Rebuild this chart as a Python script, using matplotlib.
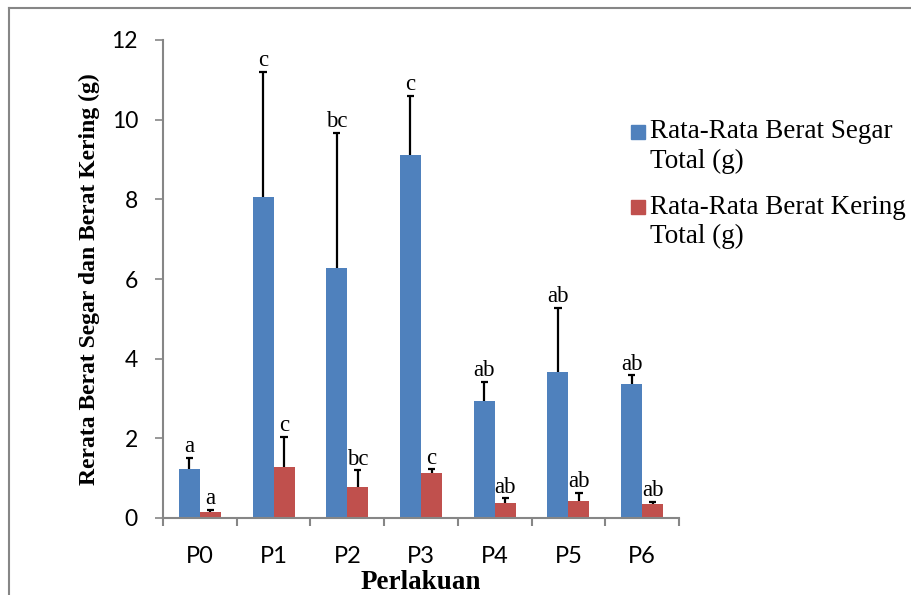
import numpy as np
import matplotlib.pyplot as plt
from matplotlib.lines import Line2D
from matplotlib.patches import Rectangle

# Data
categories = ['P0', 'P1', 'P2', 'P3', 'P4', 'P5', 'P6']
segar = [1.24, 8.05, 6.28, 9.12, 2.94, 3.66, 3.36]
segar_err = [0.27, 3.15, 3.39, 1.48, 0.47, 1.62, 0.22]
kering = [0.15, 1.28, 0.79, 1.12, 0.37, 0.43, 0.36]
kering_err = [0.05, 0.75, 0.41, 0.10, 0.12, 0.21, 0.05]
segar_lbl = ['a', 'c', 'bc', 'c', 'ab', 'ab', 'ab']
kering_lbl = ['a', 'c', 'bc', 'c', 'ab', 'ab', 'ab']
series_names = [['Rata-Rata Berat Segar', 'Total (g)'],
                ['Rata-Rata Berat Kering', 'Total (g)']]

blue = '#4F81BD'
red = '#C0504D'
axis_gray = '#868686'
serif = 'Liberation Serif'
sans = 'Lato'

fig = plt.figure(figsize=(9.12, 5.95), dpi=100)
ax = fig.add_axes([163 / 912, 77 / 595, (679 - 163) / 912, (518 - 40) / 595])

x = np.arange(len(categories))
w = 0.285
ax.bar(x - w / 2, segar, w, color=blue)
ax.bar(x + w / 2, kering, w, color=red)

# upper-only error bars
cap = 0.05
for xs, vals, errs in [(x - w / 2, segar, segar_err), (x + w / 2, kering, kering_err)]:
    tops = np.array(vals) + np.array(errs)
    ax.vlines(xs, vals, tops, color='black', lw=1.6, zorder=3)
    ax.hlines(tops, xs - cap, xs + cap, color='black', lw=1.6, zorder=3)

for i in range(len(x)):
    ax.annotate(segar_lbl[i], (x[i] - w / 2, segar[i] + segar_err[i]),
                xytext=(0, 0.5), textcoords='offset points', ha='center', va='bottom',
                fontsize=16.5, family=serif)
    ax.annotate(kering_lbl[i], (x[i] + w / 2, kering[i] + kering_err[i]),
                xytext=(0, 0.5), textcoords='offset points', ha='center', va='bottom',
                fontsize=16.5, family=serif)

ax.set_xlim(-0.5, len(x) - 0.5)
ax.set_ylim(0, 12)
ax.set_yticks(np.arange(0, 13, 2))
ax.set_xticks(x)
ax.set_xticklabels(categories)
ax.set_xticks(np.arange(-0.5, len(x), 1), minor=True)
ax.tick_params(axis='x', which='major', length=0, pad=20, labelsize=17)
ax.tick_params(axis='x', which='minor', length=6, color=axis_gray, width=1.5)
ax.tick_params(axis='y', length=6, color=axis_gray, width=1.2, pad=12, labelsize=16.5)
for lab in ax.get_xticklabels() + ax.get_yticklabels():
    lab.set_family(sans)

for side in ['top', 'right']:
    ax.spines[side].set_visible(False)
for side in ['left', 'bottom']:
    ax.spines[side].set_color(axis_gray)
    ax.spines[side].set_linewidth(1.5)

ax.set_ylabel('Rerata Berat Segar dan Berat Kering (g)', family=serif,
              fontweight='bold', fontsize=17, labelpad=8)
ax.set_xlabel('Perlakuan', family=serif, fontweight='bold', fontsize=19.5, labelpad=2.5)

# legend, drawn by hand so the swatch sits beside the first line
for k, (names, col) in enumerate(zip(series_names, [blue, red])):
    y0 = 132 + k * 75
    fig.add_artist(Rectangle((631 / 912, 1 - (y0 + 7) / 595), 14 / 912, 14 / 595,
                             color=col, transform=fig.transFigure))
    for j, line in enumerate(names):
        fig.text(650 / 912, 1 - (y0 + j * 29) / 595, line, family=serif,
                 fontsize=19.5, va='center', ha='left')

# outer chart border
fig.add_artist(Line2D([9 / 912, 9 / 912], [0, 1 - 8 / 595], color=axis_gray, lw=1.5))
fig.add_artist(Line2D([9 / 912, 1], [1 - 8 / 595, 1 - 8 / 595], color=axis_gray, lw=1.5))

fig.savefig('out.png', dpi=100)
